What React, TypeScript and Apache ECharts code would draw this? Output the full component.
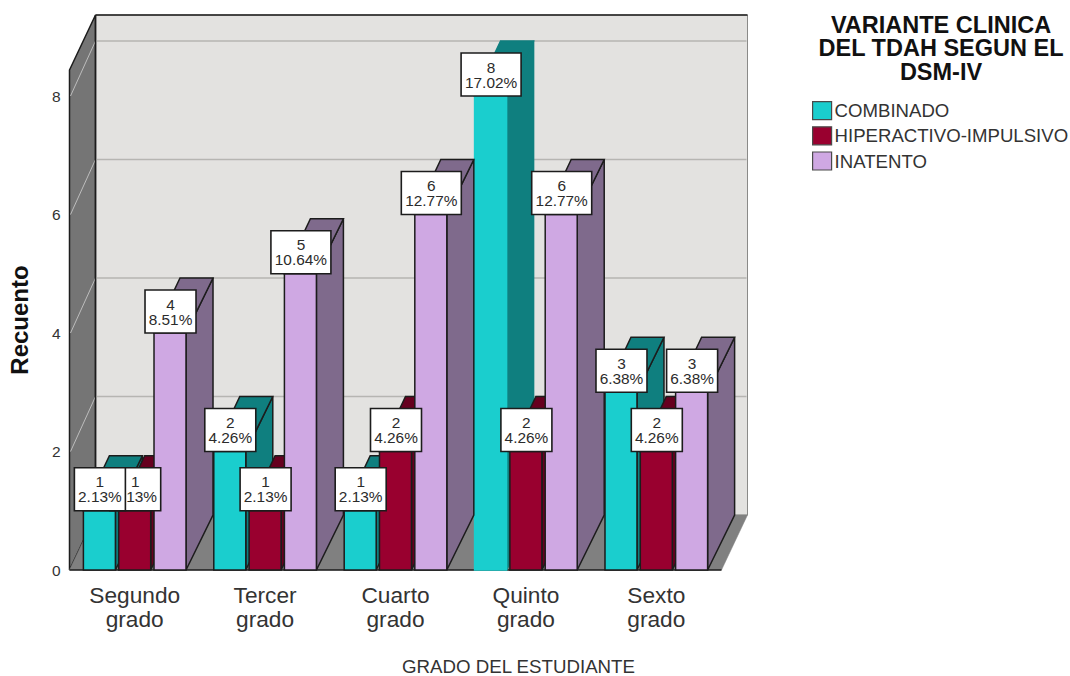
import React, { useEffect, useRef } from "react";
import * as echarts from "echarts";

const categories = ["Segundo\ngrado", "Tercer\ngrado", "Cuarto\ngrado", "Quinto\ngrado", "Sexto\ngrado"];
const seriesNames = ["COMBINADO", "HIPERACTIVO-IMPULSIVO", "INATENTO"];
const combinado = [1, 2, 1, 8, 3];
const hiperactivo = [1, 1, 2, 2, 2];
const inatento = [4, 5, 6, 6, 3];
const combinadoPct = ["2.13%", "4.26%", "2.13%", "17.02%", "6.38%"];
const hiperactivoPct = ["2.13%", "2.13%", "4.26%", "4.26%", "4.26%"];
const inatentoPct = ["8.51%", "10.64%", "12.77%", "12.77%", "6.38%"];
const wallTicks = [2, 4, 6, 8];

const frontColors = ["#1ACECE", "#99002F", "#CFA8E3"];
const sideColors = ["#0F7F7F", "#66001F", "#7F6A8C"];

// Oblique projection of the bars' and walls' depth.
const DEPTH_X = 26;
const BAR_DEPTH_X = 27;
const DEPTH_Y = -55;
const INK = "#1c1c1c";
const FONT = "'Liberation Sans', Arial, sans-serif";

const poly = (points: number[][], fill: string, stroke: string, lineWidth = 1.5) => ({
  type: "polygon",
  shape: { points },
  style: { fill, stroke, lineWidth, lineJoin: "miter" },
});

const seg = (x1: number, y1: number, x2: number, y2: number, stroke: string, lineWidth = 1.2) => ({
  type: "line",
  shape: { x1, y1, x2, y2 },
  style: { stroke, lineWidth },
});

// Floor, side wall and back wall, with the gridlines running across them.
function renderWalls(params: any, api: any) {
  const cs = params.coordSys;
  const left = cs.x;
  const right = cs.x + cs.width;
  const top = cs.y;
  const base = cs.y + cs.height;
  const children: any[] = [
    poly(
      [[left + DEPTH_X, top + DEPTH_Y], [right + DEPTH_X, top + DEPTH_Y], [right + DEPTH_X, base + DEPTH_Y], [left + DEPTH_X, base + DEPTH_Y]],
      "#E3E2E0",
      "#8a8a88",
      1
    ),
    poly([[left, top], [left + DEPTH_X, top + DEPTH_Y], [left + DEPTH_X, base + DEPTH_Y], [left, base]], "#757575", INK),
    poly([[left, base], [left + DEPTH_X, base + DEPTH_Y], [right + DEPTH_X, base + DEPTH_Y], [right, base]], "#808080", "#808080", 0.5),
  ];
  wallTicks.forEach((t) => {
    const y = api.coord([0, t])[1];
    children.push(seg(left + 1, y, left + DEPTH_X, y + DEPTH_Y, "#BDBDBD", 1));
    children.push(seg(left + DEPTH_X + 1, y + DEPTH_Y, right + DEPTH_X - 1, y + DEPTH_Y, "#B6B5B2", 1.5));
  });
  const zeroY = api.coord([0, 0])[1];
  children.push(seg(left, zeroY, right, zeroY, INK, 1.6));
  children.push(seg(left + DEPTH_X, top + DEPTH_Y, right + DEPTH_X, top + DEPTH_Y, INK, 1.6));
  children.push(seg(left + DEPTH_X, top + DEPTH_Y, left + DEPTH_X, base + DEPTH_Y, INK, 1.4));
  return { type: "group", children };
}

const barSlot = (seriesIndex: number, api: any) => {
  const band = api.size([1, 0])[0];
  const width = band * 0.2454;
  const step = band * 0.2708;
  return { width, offset: (seriesIndex - 1) * step };
};

// A bar as three faces: front, side and top, all running back to the rear wall.
const renderBar = (seriesIndex: number, noOutlineAt: number[]) => (params: any, api: any) => {
  const cat = api.value(0);
  const [cx, yTop] = api.coord([cat, api.value(1)]);
  const yBase = api.coord([cat, 0])[1];
  const { width, offset } = barSlot(seriesIndex, api);
  const x1 = cx + offset - width / 2;
  const x2 = x1 + width;
  const side = sideColors[seriesIndex];
  const plain = noOutlineAt.includes(cat);
  const edge = (c: string) => (plain ? c : INK);
  return {
    type: "group",
    children: [
      poly([[x2, yTop], [x2 + BAR_DEPTH_X, yTop + DEPTH_Y], [x2 + BAR_DEPTH_X, yBase + DEPTH_Y], [x2, yBase]], side, edge(side)),
      poly([[x1, yTop], [x1 + DEPTH_X, yTop + DEPTH_Y], [x2 + BAR_DEPTH_X, yTop + DEPTH_Y], [x2, yTop]], side, edge(side)),
      poly([[x1, yTop], [x2, yTop], [x2, yBase], [x1, yBase]], frontColors[seriesIndex], edge(frontColors[seriesIndex])),
    ],
  };
};

// White callout with the count and its share, resting on the bar's front top edge.
const renderCallout = (seriesIndex: number, pct: string[]) => (params: any, api: any) => {
  const cat = api.value(0);
  const value = api.value(1);
  const [cx, yTop] = api.coord([cat, value]);
  const { offset } = barSlot(seriesIndex, api);
  const share = pct[cat];
  const boxW = share.length > 5 ? 60 : 51;
  const boxH = 43;
  const mid = cx + offset + 0.5;
  const textStyle = { fill: "#2b2b2b", font: `15.4px ${FONT}`, textAlign: "center", textVerticalAlign: "middle" };
  return {
    type: "group",
    children: [
      {
        type: "rect",
        shape: { x: mid - boxW / 2, y: yTop - boxH, width: boxW, height: boxH },
        style: { fill: "#ffffff", stroke: INK, lineWidth: 1.6 },
      },
      { type: "text", style: { ...textStyle, text: String(value), x: mid, y: yTop - boxH + 14 } },
      { type: "text", style: { ...textStyle, text: share, x: mid, y: yTop - boxH + 29 } },
    ],
  };
};

const toPoints = (values: number[]) => values.map((v, i) => [i, v]);

export default function App() {
  const ref = useRef<HTMLDivElement>(null);

  useEffect(() => {
    document.body.style.margin = "0";
    const chart = echarts.init(ref.current!, null, { renderer: "svg" });
    const valueSets = [combinado, hiperactivo, inatento];
    const pctSets = [combinadoPct, hiperactivoPct, inatentoPct];

    // Callouts stack with the first group on top, so they are added last to first.
    const calloutOrder = [2, 1, 0];

    chart.setOption({
      animation: false,
      backgroundColor: "#ffffff",
      title: [
        {
          text: "VARIANTE CLINICA\nDEL TDAH SEGUN EL\nDSM-IV",
          left: 936,
          top: 8,
          padding: 5,
          textAlign: "center",
          textStyle: { fontFamily: FONT, fontSize: 23.5, fontWeight: "bold", color: "#111", lineHeight: 23.5 },
        },
        {
          text: "GRADO DEL ESTUDIANTE",
          left: 513.5,
          top: 652,
          textAlign: "center",
          textStyle: { fontFamily: FONT, fontSize: 18.7, fontWeight: "normal", color: "#333" },
        },
      ],
      legend: {
        left: 807,
        top: 96,
        orient: "vertical",
        selectedMode: false,
        icon: "rect",
        itemWidth: 19,
        itemHeight: 18,
        itemGap: 6,
        itemStyle: { borderColor: "#4a4a4a", borderWidth: 1.2 },
        textStyle: { fontFamily: FONT, fontSize: 18.6, color: "#333", padding: [0, 0, 0, -2] },
        data: seriesNames.map((name, i) => ({ name, itemStyle: { color: frontColors[i] } })),
      },
      grid: { left: 69.5, top: 70, width: 652, height: 500, outerBoundsMode: "none" },
      xAxis: {
        type: "category",
        data: categories,
        axisLine: { show: false },
        axisTick: { show: false },
        axisLabel: { fontFamily: FONT, fontSize: 22.7, color: "#333", lineHeight: 24, margin: 13, interval: 0 },
      },
      yAxis: {
        type: "value",
        min: 0,
        max: 8.439,
        interval: 2,
        name: "Recuento",
        nameLocation: "middle",
        nameGap: 38,
        nameTextStyle: { fontFamily: FONT, fontSize: 24, fontWeight: "bold", color: "#111" },
        axisLine: { show: false },
        axisTick: { show: false },
        splitLine: { show: false },
        axisLabel: { fontFamily: FONT, fontSize: 15.5, color: "#333", margin: 9, showMaxLabel: false },
      },
      series: [
        {
          type: "custom",
          name: "paredes",
          renderItem: renderWalls,
          data: [[0, 0]],
          encode: { x: 0, y: 1 },
          clip: false,
          silent: true,
        },
        ...valueSets.map((values, i) => ({
          type: "custom",
          name: seriesNames[i],
          itemStyle: { color: frontColors[i] },
          renderItem: renderBar(i, i === 0 ? [3] : []),
          data: toPoints(values),
          encode: { x: 0, y: 1 },
          clip: false,
        })),
        ...calloutOrder.map((i) => ({
          type: "custom",
          name: `etiquetas ${seriesNames[i]}`,
          renderItem: renderCallout(i, pctSets[i]),
          data: toPoints(valueSets[i]),
          encode: { x: 0, y: 1 },
          clip: false,
          silent: true,
        })),
      ],
    });
    return () => chart.dispose();
  }, []);

  return <div ref={ref} style={{ position: "absolute", left: 0, top: 0, width: 1070, height: 676 }} />;
}
